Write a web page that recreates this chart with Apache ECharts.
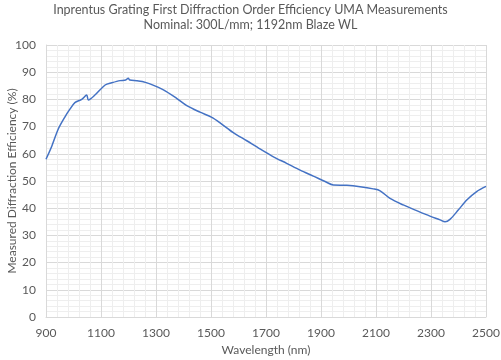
<!DOCTYPE html>
<html>
<head>
<meta charset="utf-8">
<script src="https://cdn.jsdelivr.net/npm/echarts@6/dist/echarts.min.js"></script>
<style>html,body{margin:0;padding:0;background:#fff}#c{width:501px;height:360px}</style>
</head>
<body>
<div id="c"></div>
<script>
const titleLines = ["Inprentus Grating First Diffraction Order Efficiency UMA Measurements", "Nominal: 300L/mm; 1192nm Blaze WL"];
const xName = "Wavelength (nm)";
const yName = "Measured Diffraction Efficiency (%)";
const wavelength = [900, 921, 945, 969, 987, 1005, 1030, 1048, 1054, 1078, 1115, 1139, 1169, 1190, 1199, 1205, 1230, 1250, 1278, 1327, 1375, 1412, 1460, 1503, 1533, 1581, 1630, 1678, 1727, 1775, 1824, 1872, 1915, 1945, 1994, 2042, 2090, 2115, 2151, 2199, 2248, 2296, 2333, 2351, 2369, 2399, 2430, 2466, 2500];
const efficiency = [58.0, 62.8, 69.2, 73.6, 76.4, 78.8, 80.0, 81.6, 79.8, 81.6, 85.3, 86.1, 86.9, 87.1, 87.8, 87.1, 86.9, 86.6, 85.7, 83.5, 80.4, 77.7, 75.3, 73.4, 71.4, 67.8, 64.8, 61.8, 58.9, 56.5, 54.0, 51.8, 49.8, 48.5, 48.4, 47.9, 47.1, 46.4, 43.6, 41.2, 39.1, 37.1, 35.7, 35.0, 35.9, 39.3, 43.0, 46.1, 48.0];
const seriesData = wavelength.map((w, i) => [w, efficiency[i]]);

const chart = echarts.init(document.getElementById('c'));
const textColor = '#595959';
chart.setOption({
  animation: false,
  title: {
    text: titleLines.join('\n'),
    left: 'center',
    top: 2,
    padding: 0,
    textStyle: { color: textColor, fontSize: 12.5, fontWeight: 'normal', fontFamily: 'Lato', lineHeight: 15 }
  },
  grid: { left: 46, right: 15, top: 45, bottom: 43, outerBoundsMode: 'none', containLabel: false },
  xAxis: {
    type: 'value', min: 900, max: 2500, interval: 200,
    name: xName, nameLocation: 'middle', nameGap: 27,
    nameTextStyle: { color: textColor, fontSize: 12, fontFamily: 'Lato' },
    axisLine: { show: true, lineStyle: { color: '#d9d9d9' } },
    axisTick: { show: false },
    axisLabel: { color: textColor, fontSize: 12, fontFamily: 'Lato', margin: 10, formatter: v => String(v) },
    splitLine: { show: true, lineStyle: { color: '#d9d9d9', width: 1 } },
    minorTick: { show: false, splitNumber: 5 },
    minorSplitLine: { show: true, lineStyle: { color: '#eeeeee', width: 1 } }
  },
  yAxis: {
    type: 'value', min: 0, max: 100, interval: 10,
    name: yName, nameLocation: 'middle', nameGap: 28, nameMoveOverlap: false,
    nameTextStyle: { color: textColor, fontSize: 12, fontFamily: 'Lato' },
    axisLine: { show: true, lineStyle: { color: '#d9d9d9' } },
    axisTick: { show: false },
    axisLabel: { color: textColor, fontSize: 12, fontFamily: 'Lato', margin: 10 },
    splitLine: { show: true, lineStyle: { color: '#d9d9d9', width: 1 } },
    minorTick: { show: false, splitNumber: 5 },
    minorSplitLine: { show: true, lineStyle: { color: '#eeeeee', width: 1 } }
  },
  series: [{
    type: 'line',
    data: seriesData,
    showSymbol: false,
    smooth: 0.3,
    lineStyle: { color: '#4472C4', width: 1.5 }
  }]
});
</script>
</body>
</html>
